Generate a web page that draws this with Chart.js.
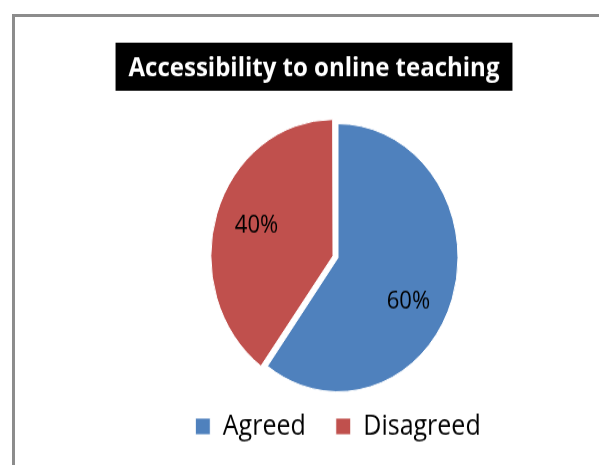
<!DOCTYPE html>
<html>
<head>
<meta charset="utf-8">
<script src="https://cdn.jsdelivr.net/npm/chart.js@4.4.1/dist/chart.umd.min.js"></script>
<style>
  html, body { margin: 0; padding: 0; background: #fff; }
  body { width: 599px; height: 465px; overflow: hidden; position: relative; }
  .frame {
    position: absolute; left: 12px; top: 14px; width: 700px; height: 600px;
    border-left: 3px solid #8c8c8c; border-top: 3px solid #8c8c8c;
  }
  /* the chart is drawn a little taller than wide */
  #pie { position: absolute; left: 15px; top: 17px; transform-origin: 0 0; transform: scaleY(1.117); }
</style>
</head>
<body>
<div class="frame"></div>
<canvas id="pie" width="646" height="401"></canvas>
<script>
const chartTitle = 'Accessibility to online teaching';
const categories = ['Agreed', 'Disagreed'];
const shares = [60, 40];
const sliceColors = ['#4F81BD', '#C0504D'];
const sliceOffsets = [0, 21];
// small shift of each percentage label away from the slice middle
const labelNudge = [[-6, 14], [0, -2]];

// black title bar with white text
const titleBar = {
  id: 'titleBar',
  beforeDraw(chart) {
    const ctx = chart.ctx;
    ctx.save();
    ctx.font = 'bold 24px "Open Sans"';
    const w = ctx.measureText(chartTitle).width;
    const cx = chart.width / 2 - 24;
    ctx.fillStyle = '#000';
    ctx.fillRect(cx - w / 2 - 13, 23, w + 26, 43);
    ctx.fillStyle = '#fff';
    ctx.textAlign = 'center';
    ctx.textBaseline = 'alphabetic';
    ctx.fillText(chartTitle, cx, 53);
    ctx.restore();
  }
};

// percentage written inside each slice
const sliceLabels = {
  id: 'sliceLabels',
  afterDatasetsDraw(chart) {
    const ctx = chart.ctx;
    const meta = chart.getDatasetMeta(0);
    const total = shares.reduce((a, b) => a + b, 0);
    ctx.save();
    ctx.font = '22px "Open Sans"';
    ctx.fillStyle = '#000';
    ctx.textAlign = 'center';
    ctx.textBaseline = 'middle';
    meta.data.forEach((arc, i) => {
      const p = arc.getProps(['x', 'y', 'startAngle', 'endAngle', 'outerRadius'], true);
      const mid = (p.startAngle + p.endAngle) / 2;
      const r = p.outerRadius * 0.67 + sliceOffsets[i] / 4;
      const txt = Math.round(shares[i] / total * 100) + '%';
      ctx.fillText(txt, p.x + Math.cos(mid) * r + labelNudge[i][0], p.y + Math.sin(mid) * r + labelNudge[i][1]);
    });
    ctx.restore();
  }
};

new Chart(document.getElementById('pie'), {
  type: 'pie',
  data: {
    labels: categories,
    datasets: [{
      data: shares,
      backgroundColor: sliceColors,
      borderColor: '#fff',
      borderWidth: 1,
      offset: sliceOffsets,
      radius: 120
    }]
  },
  options: {
    responsive: false,
    animation: false,
    layout: { padding: { top: 107, bottom: 12 } },
    plugins: {
      tooltip: { enabled: false },
      legend: {
        position: 'bottom',
        labels: {
          font: { family: 'Open Sans', size: 25 },
          color: '#000',
          boxWidth: 15,
          boxHeight: 15,
          padding: 30
        }
      }
    }
  },
  plugins: [titleBar, sliceLabels]
});
</script>
</body>
</html>
